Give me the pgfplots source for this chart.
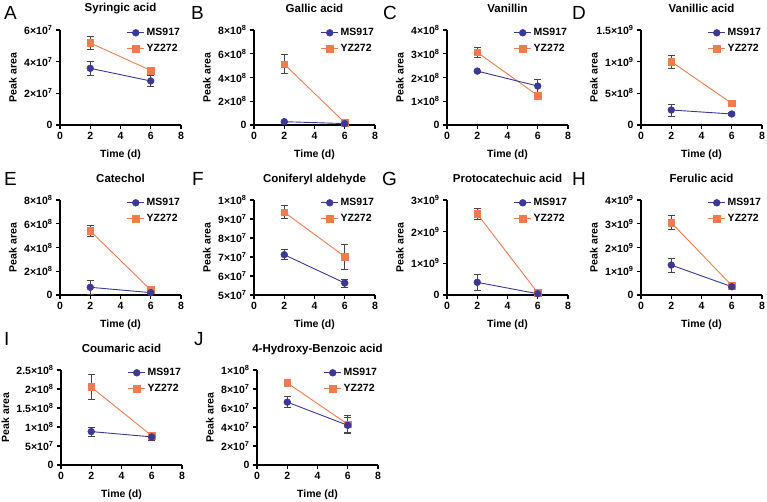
\documentclass[border=0pt]{standalone}
\usepackage{pgfplots}
\pgfplotsset{compat=1.18}
\usepackage{fontspec}
\setmainfont{Liberation Sans}
\definecolor{msblue}{RGB}{60,56,150}
\definecolor{yzor}{RGB}{240,124,78}
\definecolor{ebar}{RGB}{70,70,70}
\newcommand{\sci}[2]{#1×10\textsuperscript{#2}}
\newcommand{\fs}{\fontsize{10.5}{12}\selectfont\bfseries}
\pgfplotsset{
  panel/.style={
    scale only axis, width=121pt, height=95pt,
    axis lines=left, axis line style={-, line width=1.1pt},
    xmin=0, xmax=8, xtick={0,2,4,6,8}, clip=false,
    /pgf/number format/assume math mode=true,
    tick align=outside, major tick length=4pt,
    tick style={black, line width=1.1pt},
    tick label style={font=\fs},
    label style={font=\fs},
    title style={font=\fontsize{11.5}{13}\selectfont\bfseries, at={(axis description cs:0.5,1)}, anchor=base, yshift=12pt},
    xlabel={Time (d)},
    xlabel style={at={(axis description cs:0.5,0)}, anchor=center, yshift=-30pt},
    ylabel={Peak area},
    ylabel style={at={(axis description cs:-0.39,0.5)}, anchor=center},
    scaled y ticks=false,
    legend style={draw=none, fill=none, at={(axis description cs:1.01,1.04)}, anchor=north east, font=\fs, row sep=3pt, inner sep=0pt},
    legend cell align=left, reverse legend,
  },
  ms/.style={color=msblue, line width=0.9pt, mark=*, mark size=3.4pt, mark options={fill=msblue, draw=msblue, line width=0.5pt},
    error bars/y dir=both, error bars/y explicit,
    error bars/error bar style={ebar, line width=0.7pt},
    error bars/error mark options={rotate=90, ebar, mark size=3.5pt, line width=0.7pt}},
  yz/.style={color=yzor, line width=0.9pt, mark=square*, mark size=3.4pt, mark options={fill=yzor, draw=yzor, line width=0.5pt},
    error bars/y dir=both, error bars/y explicit,
    error bars/error bar style={ebar, line width=0.7pt},
    error bars/error mark options={rotate=90, ebar, mark size=3.5pt, line width=0.7pt}},
}
\newcommand{\letter}[3]{\node[anchor=base west, inner sep=0pt, font=\fontsize{19}{20}\selectfont] at (#1pt,-#2pt) {#3};}
\begin{document}
\begin{tikzpicture}
\useasboundingbox (0,0) rectangle (767pt,-501pt);
\letter{4}{19}{A}
\letter{191}{19}{B}
\letter{383}{19}{C}
\letter{572}{19}{D}
\letter{4}{185}{E}
\letter{192}{185}{F}
\letter{382}{185}{G}
\letter{572}{185}{H}
\letter{4}{345}{I}
\letter{194}{345}{J}

% A
\begin{axis}[panel, at={(60pt,-125pt)}, anchor=south west, title={Syringic acid},
  ymin=0, ymax=6e7, ytick={0,2e7,4e7,6e7}, yticklabels={0,\sci{2}{7},\sci{4}{7},\sci{6}{7}}]
\addplot[yz] table[row sep=\\, y error=e] {x y e\\ 2 5.18e7 0.40e7\\ 6 3.45e7 0.22e7\\};
\addlegendentry{YZ272}
\addplot[ms] table[row sep=\\, y error=e] {x y e\\ 2 3.58e7 0.45e7\\ 6 2.78e7 0.35e7\\};
\addlegendentry{MS917}
\end{axis}

% B
\begin{axis}[panel, at={(254pt,-125pt)}, anchor=south west, title={Gallic acid},
  ymin=0, ymax=8e8, ytick={0,2e8,4e8,6e8,8e8}, yticklabels={0,\sci{2}{8},\sci{4}{8},\sci{6}{8},\sci{8}{8}}]
\addplot[yz] table[row sep=\\, y error=e] {x y e\\ 2 5.12e8 0.80e8\\ 6 0.20e8 0.03e8\\};
\addlegendentry{YZ272}
\addplot[ms] table[row sep=\\, y error=e] {x y e\\ 2 0.28e8 0.04e8\\ 6 0.12e8 0.02e8\\};
\addlegendentry{MS917}
\end{axis}

% C
\begin{axis}[panel, at={(447pt,-125pt)}, anchor=south west, title={Vanillin},
  ymin=0, ymax=4e8, ytick={0,1e8,2e8,3e8,4e8}, yticklabels={0,\sci{1}{8},\sci{2}{8},\sci{3}{8},\sci{4}{8}}]
\addplot[yz] table[row sep=\\, y error=e] {x y e\\ 2 3.06e8 0.22e8\\ 6 1.24e8 0.10e8\\};
\addlegendentry{YZ272}
\addplot[ms] table[row sep=\\, y error=e] {x y e\\ 2 2.27e8 0.05e8\\ 6 1.64e8 0.28e8\\};
\addlegendentry{MS917}
\end{axis}

% D
\begin{axis}[panel, at={(641pt,-125pt)}, anchor=south west, title={Vanillic acid},
  ymin=0, ymax=1.5e9, ytick={0,5e8,1e9,1.5e9}, yticklabels={0,\sci{5}{8},\sci{1}{9},\sci{1.5}{9}}]
\addplot[yz] table[row sep=\\, y error=e] {x y e\\ 2 1.00e9 0.10e9\\ 6 0.342e9 0.05e9\\};
\addlegendentry{YZ272}
\addplot[ms] table[row sep=\\, y error=e] {x y e\\ 2 0.237e9 0.095e9\\ 6 0.174e9 0.02e9\\};
\addlegendentry{MS917}
\end{axis}

% E
\begin{axis}[panel, at={(60pt,-295pt)}, anchor=south west, title={Catechol},
  ymin=0, ymax=8e8, ytick={0,2e8,4e8,6e8,8e8}, yticklabels={0,\sci{2}{8},\sci{4}{8},\sci{6}{8},\sci{8}{8}}]
\addplot[yz] table[row sep=\\, y error=e] {x y e\\ 2 5.40e8 0.45e8\\ 6 0.42e8 0.05e8\\};
\addlegendentry{YZ272}
\addplot[ms] table[row sep=\\, y error=e] {x y e\\ 2 0.65e8 0.60e8\\ 6 0.20e8 0.03e8\\};
\addlegendentry{MS917}
\end{axis}

% F
\begin{axis}[panel, at={(254pt,-295pt)}, anchor=south west, title={Coniferyl aldehyde},
  ymin=5e7, ymax=1e8, ytick={5e7,6e7,7e7,8e7,9e7,1e8}, yticklabels={\sci{5}{7},\sci{6}{7},\sci{7}{7},\sci{8}{7},\sci{9}{7},\sci{1}{8}}]
\addplot[yz] table[row sep=\\, y error=e] {x y e\\ 2 9.36e7 0.35e7\\ 6 7.02e7 0.65e7\\};
\addlegendentry{YZ272}
\addplot[ms] table[row sep=\\, y error=e] {x y e\\ 2 7.12e7 0.26e7\\ 6 5.63e7 0.22e7\\};
\addlegendentry{MS917}
\end{axis}

% G
\begin{axis}[panel, at={(447pt,-295pt)}, anchor=south west, title={Protocatechuic acid},
  ymin=0, ymax=3e9, ytick={0,1e9,2e9,3e9}, yticklabels={0,\sci{1}{9},\sci{2}{9},\sci{3}{9}}]
\addplot[yz] table[row sep=\\, y error=e] {x y e\\ 2 2.56e9 0.18e9\\ 6 0.07e9 0.02e9\\};
\addlegendentry{YZ272}
\addplot[ms] table[row sep=\\, y error=e] {x y e\\ 2 0.40e9 0.26e9\\ 6 0.04e9 0.01e9\\};
\addlegendentry{MS917}
\end{axis}

% H
\begin{axis}[panel, at={(641pt,-295pt)}, anchor=south west, title={Ferulic acid},
  ymin=0, ymax=4e9, ytick={0,1e9,2e9,3e9,4e9}, yticklabels={0,\sci{1}{9},\sci{2}{9},\sci{3}{9},\sci{4}{9}}]
\addplot[yz] table[row sep=\\, y error=e] {x y e\\ 2 3.05e9 0.30e9\\ 6 0.40e9 0.04e9\\};
\addlegendentry{YZ272}
\addplot[ms] table[row sep=\\, y error=e] {x y e\\ 2 1.26e9 0.29e9\\ 6 0.35e9 0.05e9\\};
\addlegendentry{MS917}
\end{axis}

% I
\begin{axis}[panel, at={(61pt,-465pt)}, anchor=south west, title={Coumaric acid},
  ylabel style={at={(axis description cs:-0.46,0.5)}},
  ymin=0, ymax=2.5e8, ytick={0,5e7,1e8,1.5e8,2e8,2.5e8}, yticklabels={0,\sci{5}{7},\sci{1}{8},\sci{1.5}{8},\sci{2}{8},\sci{2.5}{8}}]
\addplot[yz] table[row sep=\\, y error=e] {x y e\\ 2 2.05e8 0.33e8\\ 6 0.77e8 0.05e8\\};
\addlegendentry{YZ272}
\addplot[ms] table[row sep=\\, y error=e] {x y e\\ 2 0.88e8 0.12e8\\ 6 0.74e8 0.08e8\\};
\addlegendentry{MS917}
\end{axis}

% J
\begin{axis}[panel, at={(257pt,-465pt)}, anchor=south west, title={4-Hydroxy-Benzoic acid},
  ymin=0, ymax=1e8, ytick={0,2e7,4e7,6e7,8e7,1e8}, yticklabels={0,\sci{2}{7},\sci{4}{7},\sci{6}{7},\sci{8}{7},\sci{1}{8}}]
\addplot[yz] table[row sep=\\, y error=e] {x y e\\ 2 8.64e7 0.40e7\\ 6 4.29e7 0.90e7\\};
\addlegendentry{YZ272}
\addplot[ms] table[row sep=\\, y error=e] {x y e\\ 2 6.62e7 0.60e7\\ 6 4.18e7 0.80e7\\};
\addlegendentry{MS917}
\end{axis}
\end{tikzpicture}
\end{document}
